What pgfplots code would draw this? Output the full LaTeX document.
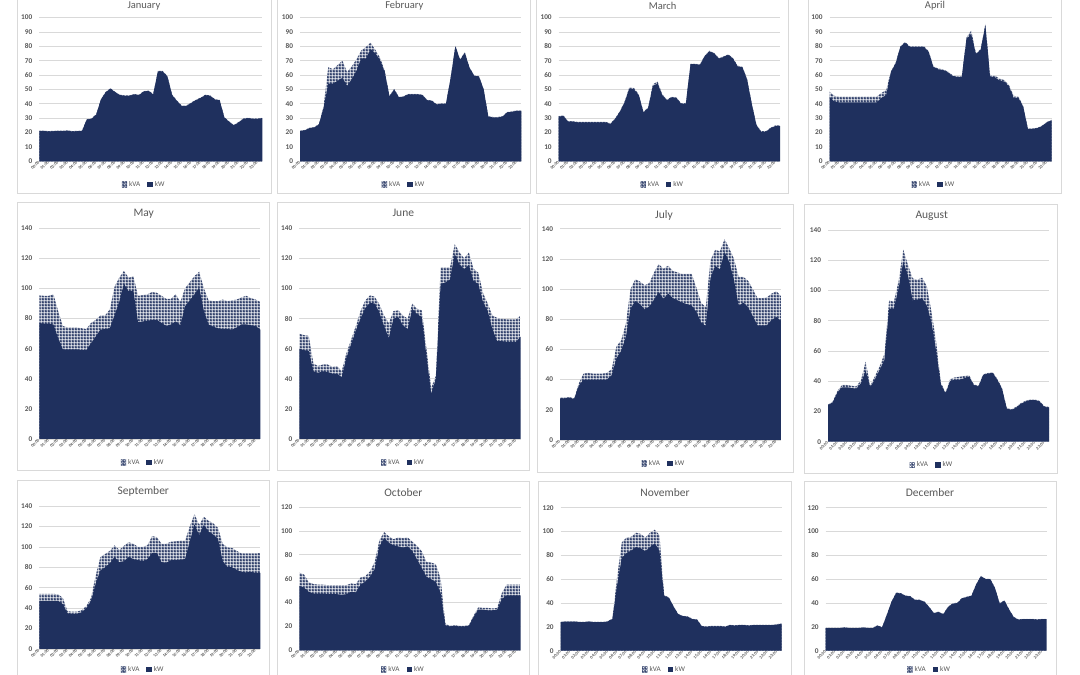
\documentclass[border=0pt]{standalone}
\usepackage{fontspec}
\setmainfont{Carlito}
\usepackage{pgfplots}
\pgfplotsset{compat=1.18}
\usetikzlibrary{patterns}
\definecolor{navy}{HTML}{1F305E}
\definecolor{labgray}{HTML}{595959}
\definecolor{gridgray}{HTML}{D9D9D9}
\definecolor{framegray}{HTML}{D9D9D9}

\pgfdeclarepatternformonly{xlcheck}{\pgfpointorigin}{\pgfqpoint{3pt}{3pt}}{\pgfqpoint{3pt}{3pt}}{%
 \pgfseteorule
 \pgfpathrectangle{\pgfpointorigin}{\pgfqpoint{3pt}{3pt}}%
 \pgfpathrectangle{\pgfqpoint{0.7pt}{0.7pt}}{\pgfqpoint{1.6pt}{1.6pt}}%
 \pgfusepath{fill}}

\newcommand\defseries[2]{\gdef#1{}\foreach \v [count=\i from 0] in {#2}{\xdef#1{#1(\i,\v)}}}

\defseries\JanW{21,21,20.7,20.9,21,21,21.2,20.7,20.9,21,29,29.5,32.5,43,48,50.5,48,46,45.5,45.5,46.5,46,48.5,49,46.5,62.5,62.5,59,46,42,38.5,38.5,40.5,42.5,44,46,45.5,43,42.5,30.5,27.5,25,27,29.5,30,29.5,29.5,30}
\defseries\JanA{21.3,21.3,21,21.2,21.3,21.3,21.5,21,21.2,21.3,29.3,29.8,32.8,43.3,48.3,50.8,48.3,46.3,45.8,45.8,46.8,46.3,48.8,49.3,46.8,62.8,62.8,59.3,46.3,42.3,38.8,38.8,40.8,42.8,44.3,46.3,45.8,43.3,42.8,30.8,27.8,25.3,27.3,29.8,30.3,29.8,29.8,30.3}
\defseries\FebW{21,21.5,23,23.5,25.5,37,54,54,56,58,52.5,57,63,71.5,71.5,78,75,70.5,62,45,50,44.5,45,46.5,46.5,46.5,46,42.5,42,39.5,40,40,58,80,70.5,75.5,65,59.5,59,50,31,30.5,30.5,31,34,34.5,35,35}
\defseries\FebA{21.3,21.8,23.3,23.8,25.8,38,65.5,64,67,70,62,66,71,77,79.5,82.5,77.5,72,63,45.5,50.3,44.8,45.3,46.8,46.8,46.8,46.3,42.8,42.3,39.8,40.3,40.3,58.3,80.5,70.8,75.8,65.3,59.8,59.3,50.3,31.3,30.8,30.8,31.3,34.3,34.8,35.3,35.3}
\defseries\MarW{31,31.5,27.5,27.5,27,27,27,27,27,27,27,26,29.5,34.5,41,50.5,50,46,34,37,52.5,54,46,42.5,44.5,44,40,40,67.5,67.5,67,73,76.5,75,71.5,72.5,74,71.5,66,65.5,57,40,25,20.5,20.5,23,24.5,24.5}
\defseries\MarA{31.4,31.9,27.9,27.9,27.4,27.4,27.4,27.4,27.4,27.4,27.4,26.4,29.9,34.9,41.5,51.5,51,46.5,34.4,37.5,53.5,55.5,46.5,42.9,44.9,44.4,40.4,40.4,67.9,67.9,67.4,73.4,76.9,75.4,71.9,72.9,74.4,71.9,66.4,65.9,57.4,40.4,25.4,20.9,20.9,23.4,24.9,24.9}
\defseries\AprW{45,41.5,41,41,41,41,41,41,41,41,41,44,46,62,68,79.5,82.5,79.5,79.5,79.5,79.5,76,65.5,64,63.5,62,59.5,58.5,58.5,85,88.5,74.5,77.5,94.5,58.5,58.5,56,55.5,52,44,44,38,22.5,22.5,23,24.5,27,28.5}
\defseries\AprA{48.5,45.5,45,45,45,45,45,45,45,45,45,47.5,49.5,62.5,68.5,80,83,80,80,80,80,76.5,66,64.5,64,62.5,60,59,59,86,91,75,78,95.5,60,59.5,57.5,56.5,53,45.5,45,38.5,22.8,22.8,23.3,24.8,27.3,28.8}
\defseries\MayW{77,76.5,76.5,76,67,59.5,59.5,59.5,59.5,59,59,63.5,68,72.5,73,73.5,82,91,103,98,98.5,77.5,78,78.5,79,79,77,75,76,78,75.5,88,92,96,100.5,85,76,74.5,73.5,73,73,72.5,74,76,76,75.5,75,72.5}
\defseries\MayA{95.3,95,95,96,85,75,74,74,74,73.5,73,77,79,82,82,86,101,107,111.5,107,108,95,95.5,96,97.5,97,95,93,93,96,91,100,104,108,111,100,92,91.5,91.5,92.5,91.5,92,92.5,94,95,93.5,92.5,91}
\defseries\JunW{60,59,58.5,45,44,45,44.5,43.5,43.5,41,54,63,72,80,87,90.5,90,84,75,67,80,81,75.5,73,86.5,83,81,55,30,40,103,104,106,123,116,113,115.5,105,103,91,85,73,65,65,64.5,64.5,64.5,68}
\defseries\JunA{70,69,68.5,50,48.5,49.5,49.5,48,48.5,45,57,66,75,85,92,95.5,94.5,89.5,82,77,85,85.5,82,80,90,86.5,85.5,60,34,42,114,114,114,129.5,124,120,124,113,110.5,97,90,82,80.5,80,79.5,79.5,79.5,82}
\defseries\JulW{27.5,27.5,28,27,36,40,40,40,40,40,40,43,54,59,68,87,92,90,86.5,88.5,93,98,93.5,97,94,92.5,91,90,89,85,78,75.5,107,115.5,113,124.5,118,106,89,91,88,82,76,76,76,79.5,81.5,79}
\defseries\JulA{28,28,28.5,27.5,37.5,44,44.5,44,44,44,44.5,47,62,66,77,100,106.5,105,102.5,104,111,116.5,113.5,115.5,112,111,110,110,110,101,91,88,119,126,125,133,127,120,108,108,105.5,100,94,94,94.5,97,98.5,95.5}
\defseries\AugW{24,26,32.5,36,36,35.5,35,38.5,47,36,41.5,47.5,54,88,88,101,119,110,93.5,94,95,90,79,60,38,32,40,41,41,42,43,37.5,36.5,44,45,45.5,41,35,22,21,22.5,25,26.5,27.5,27.5,26.5,23,22.5}
\defseries\AugA{24.5,26.5,33.5,37.5,37.5,37,36.5,40.5,53,37,43.5,50,58,93.5,92.5,106,127,117,108,107,108.5,103,86,66,39,32.5,41.5,42.5,43,43.5,44,38,37,44.5,45.5,46,41.5,35.5,22.5,21.5,23,25.5,27,28,28,27,23.5,23}
\defseries\SepW{47,47,47,47,47,44,35,34.5,34.5,36,40,47,64,77,80,84,90,85,86,90,88,87,86,88,94,94,85,84.5,87,87,87.5,88,105,122,111.5,121.5,115,112,108,86,80.5,80,77.5,75.5,75,75.5,74.5,74.5}
\defseries\SepA{54,54,54,54,53.5,50,37,36.5,36.5,38,42,50,72,90,93,96,101.5,97,101,104.5,103,100,100,101.5,110.5,109.5,103,103,105,105.5,106,106,120,132,121.5,129.5,125.5,123,118.5,103,99.5,99,96,93.5,93.5,93.5,93.5,94}
\defseries\OctW{54,52.5,49,47.5,47.5,47.5,47,47,47,46.5,47,49,48.5,55,57.5,61.5,68,87,94,90,88,87,86,87,83,76,69,61.5,59.5,57,48,21,20,20.5,20,20,20.5,28,34,34,33.5,33.5,34,43,46,46,46,46}
\defseries\OctA{65,63.5,57,55.5,55,55,54.5,54.5,54.5,54.5,54.5,56,55.5,61,62,66,74,92,99,95.5,93,94.5,94,94.5,91,87.5,83,74,73.5,72,60,22.5,20.5,21,20.5,20.5,21,29,36,35.5,35.5,35,35.5,48,55,55,55,55}
\defseries\NovW{24,24.5,24.5,24.5,24,24,24.5,24,24,24,24.5,26.5,55,78,82,84,87,86,83.5,87,90,84,46,44.5,37,30.5,29,28.5,26.5,26,20.5,20,20.5,20.5,20.5,20,21.5,21,21.5,21.5,21,21.5,21.5,21.5,21.5,21.5,22,22.5}
\defseries\NovA{24.3,24.8,24.8,24.8,24.3,24.3,24.8,24.3,24.3,24.3,24.8,27,62,91,95,95.5,99,98,95,99,101.5,97,46.5,44.8,37.3,30.8,29.3,28.8,26.8,26.3,20.8,20.3,20.8,20.8,20.8,20.3,21.8,21.3,21.8,21.8,21.3,21.8,21.8,21.8,21.8,21.8,22.3,22.8}
\defseries\DecW{19,19,19,19,19.5,19,19,19,19.5,19,19,21,19.5,30,41,48.5,48,46,45.5,42.5,42.5,41,36.5,31.5,32.5,30.5,36.5,39.5,40,44,45,46,55.5,62.5,60,60,52.5,39.5,42,34.5,28,26,26.5,26.5,26.5,26,26.5,26.5}
\defseries\DecA{19.3,19.3,19.3,19.3,19.8,19.3,19.3,19.3,19.8,19.3,19.3,21.3,19.8,30.3,41.3,48.8,48.3,46.3,45.8,42.8,42.8,41.3,36.8,31.8,32.8,30.8,36.8,39.8,40.3,44.3,45.3,46.3,55.8,62.8,60.3,60.3,52.8,39.8,42.3,34.8,28.3,26.3,26.8,26.8,26.8,26.3,26.8,26.8}

\pgfplotsset{
 panel/.style={
  scale only axis, anchor=south west,
  xmin=0, xmax=47, ymin=0, enlargelimits=false,
  axis line style={draw=none},
  major tick length=0pt,
  ymajorgrids, grid style={draw=gridgray, line width=0.7pt},
  xtick={0,2,...,46},
  xticklabels={00:00,01:00,02:00,03:00,04:00,05:00,06:00,07:00,08:00,09:00,10:00,11:00,12:00,13:00,14:00,15:00,16:00,17:00,18:00,19:00,20:00,21:00,22:00,23:00},
  xticklabel style={rotate=45, anchor=east, font=\fontsize{4.3}{5}\selectfont\bfseries, text=labgray, inner sep=0.6pt},
  yticklabel style={font=\fontsize{7.3}{8}\selectfont\bfseries, text=labgray, xshift=-3.5pt},
  /pgf/number format/assume math mode=true,
  legend columns=2,
  legend style={draw=none, fill=none, at={(0.47,0)}, anchor=center,
    font=\fontsize{7.2}{8}\selectfont, text=labgray, inner sep=0pt,
    /tikz/every even column/.append style={column sep=5pt}},
  legend image code/.code={\path[#1] (0pt,-2.6pt) rectangle (5.4pt,2.8pt);},
 },
 kva/.style={draw=none, fill=white, postaction={pattern=xlcheck, pattern color=navy}},
 kw/.style={draw=none, fill=navy},
}

\newcommand{\panel}[9]{%
\begin{axis}[panel, at={(#1pt,#2pt)}, width=#3pt, height=#4pt, ymax=#5, ytick distance=#6,
  legend style={yshift=-#9pt}]
\edef\tmpplot{\noexpand\addplot[kva] coordinates {#8} \noexpand\closedcycle;}\tmpplot
\edef\tmpplot{\noexpand\addplot[kw] coordinates {#7} \noexpand\closedcycle;}\tmpplot
\legend{kVA,kW}
\end{axis}}

\begin{document}
\begin{tikzpicture}
\useasboundingbox (0pt,0pt) rectangle (1080pt,675pt);
\fill[white] (0pt,0pt) rectangle (1080pt,675pt);
\begin{scope}[draw=framegray, line width=0.75pt]
\draw (17.3pt,481.7pt) rectangle (271.7pt,690pt);
\draw (277.3pt,481.7pt) rectangle (530.7pt,690pt);
\draw (536.7pt,481.7pt) rectangle (788.3pt,690pt);
\draw (808.3pt,481.7pt) rectangle (1061pt,690pt);
\draw (17.3pt,205pt) rectangle (269.3pt,472.3pt);
\draw (277.3pt,205pt) rectangle (529.3pt,472.3pt);
\draw (537pt,203pt) rectangle (793.3pt,471pt);
\draw (804pt,202pt) rectangle (1057.3pt,470.3pt);
\draw (17.3pt,-15pt) rectangle (269.3pt,195pt);
\draw (277.3pt,-15pt) rectangle (529.3pt,194pt);
\draw (538.3pt,-15pt) rectangle (791pt,194pt);
\draw (804pt,-15pt) rectangle (1056pt,194pt);
\end{scope}

\panel{39.3}{513.7}{223}{143.8}{100}{10}{\JanW}{\JanA}{23.5}
\panel{300}{513.7}{221.3}{143.8}{100}{10}{\FebW}{\FebA}{23.5}
\panel{558.7}{513.7}{221.3}{143.8}{100}{10}{\MarW}{\MarA}{23.5}
\panel{829.5}{513.7}{222}{143.8}{100}{10}{\AprW}{\AprA}{23.5}
\panel{39.3}{236}{221}{211}{140}{20}{\MayW}{\MayA}{23.5}
\panel{299.3}{236}{221.4}{210.7}{140}{20}{\JunW}{\JunA}{23.5}
\panel{560}{235}{221}{211.3}{140}{20}{\JulW}{\JulA}{23.5}
\panel{828}{233.3}{221}{211.7}{140}{20}{\AugW}{\AugA}{23.5}
\panel{39.3}{26}{221}{143}{140}{20}{\SepW}{\SepA}{20.5}
\panel{299.3}{24.7}{221.4}{143.3}{120}{20}{\OctW}{\OctA}{19.5}
\panel{560.7}{24.3}{221}{143}{120}{20}{\NovW}{\NovA}{19}
\panel{825.7}{24.3}{221}{143}{120}{20}{\DecW}{\DecA}{19}

\begin{scope}[every node/.style={text=labgray, inner sep=0pt}]
\node[font=\fontsize{10.5}{12}\selectfont] at (144pt,669pt) {January};
\node[font=\fontsize{10.5}{12}\selectfont] at (404.3pt,669pt) {February};
\node[font=\fontsize{10.5}{12}\selectfont] at (662.7pt,669pt) {March};
\node[font=\fontsize{10.5}{12}\selectfont] at (935pt,669pt) {April};
\node[font=\fontsize{11.5}{13}\selectfont] at (143.7pt,461.7pt) {May};
\node[font=\fontsize{11.5}{13}\selectfont] at (403.3pt,461.7pt) {June};
\node[font=\fontsize{11.5}{13}\selectfont] at (664pt,460pt) {July};
\node[font=\fontsize{11.5}{13}\selectfont] at (931.7pt,459pt) {August};
\node[font=\fontsize{11.5}{13}\selectfont] at (143.3pt,183.3pt) {September};
\node[font=\fontsize{11.5}{13}\selectfont] at (403.3pt,182.7pt) {October};
\node[font=\fontsize{11.5}{13}\selectfont] at (665pt,182.7pt) {November};
\node[font=\fontsize{11.5}{13}\selectfont] at (930pt,182.7pt) {December};
\end{scope}
\end{tikzpicture}
\end{document}
